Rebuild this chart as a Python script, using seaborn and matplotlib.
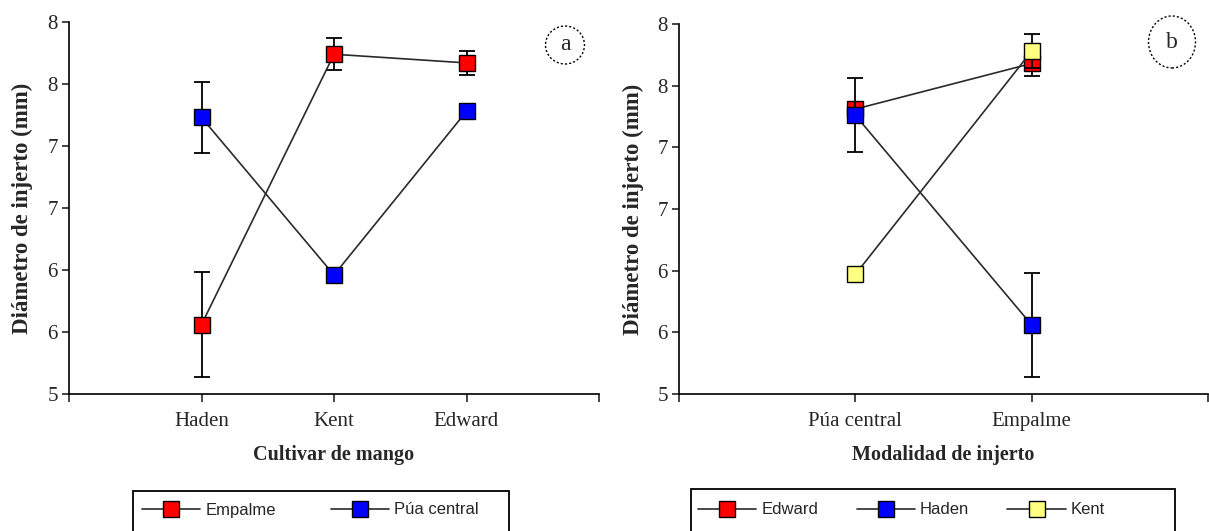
import numpy as np
import pandas as pd
import matplotlib
matplotlib.use('Agg')
import matplotlib.pyplot as plt
import seaborn as sns
from matplotlib.patches import Ellipse, Rectangle

# (a) diametro por cultivar de mango
cultivares = ['Haden', 'Kent', 'Edward']
empalme_media = [5.56, 7.74, 7.67]
empalme_err = [0.42, 0.13, 0.10]
pua_media = [7.23, 5.96, 7.28]
pua_err = [0.29, 0.04, 0.04]

# (b) diametro por modalidad de injerto
modalidades = ['Púa central', 'Empalme']
edward_media = [7.31, 7.68]
edward_err = [0.04, 0.10]
haden_media = [7.26, 5.56]
haden_err = [0.30, 0.42]
kent_media = [5.97, 7.78]
kent_err = [0.04, 0.14]

# eje y: paso 0.5 pero con etiquetas sin decimales (como en el original)
y_ticks = [5.0, 5.5, 6.0, 6.5, 7.0, 7.5, 8.0]
y_ticklabels = ['5', '6', '6', '7', '7', '8', '8']

W, H = 1209, 531
sns.set_style('ticks')
plt.rcParams['font.family'] = ['Liberation Serif', 'DejaVu Serif']
plt.rcParams['axes.linewidth'] = 1.2


def draw_series(ax, cats, media, err, label, color, z):
    """Error bars, black joining line and coloured square markers."""
    df = pd.DataFrame({'pos': np.arange(len(cats)), 'media': media, 'err': err})
    ax.errorbar(df['pos'], df['media'], yerr=df['err'], fmt='none', ecolor='black',
                elinewidth=1.3, capsize=6, capthick=1.3, zorder=z)
    sns.lineplot(data=df, x='pos', y='media', ax=ax, color='#2a2a2a', lw=1.2,
                 marker='s', markersize=12, markerfacecolor=color,
                 markeredgecolor='black', markeredgewidth=1.0,
                 label=label, errorbar=None, zorder=z + 1)


def style_axes(ax, cats, xlabel):
    n = len(cats)
    ax.set_xlim(-1, n)
    ax.set_xticks(np.arange(-1, n + 1))
    ax.set_xticklabels([''] + cats + [''], fontsize=15)
    ax.set_ylim(5, 8)
    ax.set_yticks(y_ticks)
    ax.set_yticklabels(y_ticklabels, fontsize=15)
    ax.tick_params(axis='y', direction='out', length=5, width=1.2, pad=3)
    ax.tick_params(axis='x', direction='out', length=6, width=1.2, pad=7)
    for s in ['top', 'right']:
        ax.spines[s].set_visible(False)
    for s in ['left', 'bottom']:
        ax.spines[s].set_color('black')
    ax.set_xlabel(xlabel, fontsize=14.5, fontweight='bold', labelpad=10)
    ax.set_ylabel('Diámetro de injerto (mm)', fontsize=16.5, fontweight='bold', labelpad=10)
    if ax.get_legend() is not None:
        ax.get_legend().remove()


fig = plt.figure(figsize=(W / 100, H / 100), dpi=100)
ax1 = fig.add_axes([69 / W, 1 - 394 / H, (599 - 69) / W, (394 - 22) / H])
ax2 = fig.add_axes([679 / W, 1 - 394 / H, (1208 - 679) / W, (394 - 24) / H])

draw_series(ax1, cultivares, empalme_media, empalme_err, 'Empalme', '#ff0000', 2)
draw_series(ax1, cultivares, pua_media, pua_err, 'Púa central', '#0000ff', 4)
style_axes(ax1, cultivares, 'Cultivar de mango')

draw_series(ax2, modalidades, edward_media, edward_err, 'Edward', '#ff0000', 2)
draw_series(ax2, modalidades, haden_media, haden_err, 'Haden', '#0000ff', 4)
draw_series(ax2, modalidades, kent_media, kent_err, 'Kent', '#ffff80', 6)
style_axes(ax2, modalidades, 'Modalidad de injerto')

# leyendas bajo cada panel; el marco sigue por debajo del borde de la figura
leg_font = {'family': 'Liberation Sans', 'size': 12}
for ax, x0, x1, top, hx, nc, cs in [(ax1, 133, 509, 491, 142, 2, 3.3),
                                    (ax2, 691, 1175, 489, 698, 3, 2.3)]:
    fig.add_artist(Rectangle((x0 / W, -0.1), (x1 - x0) / W, 1 - top / H + 0.1,
                             transform=fig.transFigure, fill=False, lw=1.3, ec='black'))
    h, l = ax.get_legend_handles_labels()
    fig.legend(h, l, loc='center left', ncol=nc, bbox_to_anchor=(hx / W, 1 - 510 / H),
               borderaxespad=0, borderpad=0, prop=leg_font, numpoints=1,
               handlelength=3.5, handletextpad=0.3, columnspacing=cs, frameon=False)

# letras de panel en circulo punteado
for cx, cy, ew, eh, letra in [(565, 45, 39, 38, 'a'), (1172, 42, 47, 52, 'b')]:
    fig.add_artist(Ellipse((cx / W, 1 - cy / H), ew / W, eh / H, transform=fig.transFigure,
                           fill=False, lw=1.0, ls=(0, (1.5, 1.5)), color='black'))
    fig.text(cx / W, 1 - cy / H, letra, ha='center', va='center', fontsize=17)

fig.savefig('out.png', dpi=100)
